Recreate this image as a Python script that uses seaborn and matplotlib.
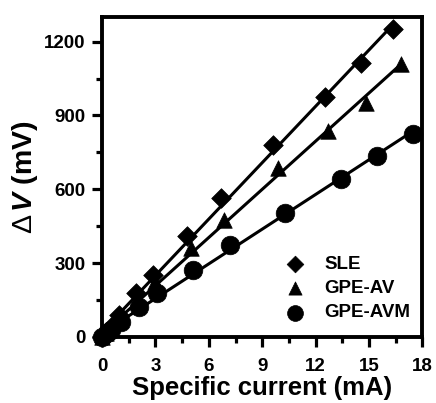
import matplotlib
matplotlib.use("Agg")
import matplotlib.pyplot as plt
from matplotlib.ticker import MultipleLocator
import numpy as np
import pandas as pd
import seaborn as sns

# Measured overpotential vs. specific current for the three electrolytes
series_names = ["SLE", "GPE-AV", "GPE-AVM"]
sle_current = [0, 0.2, 0.5, 0.95, 1.9, 2.85, 4.8, 6.7, 9.6, 12.55, 14.55, 16.35]
sle_dv = [0, 15, 40, 90, 178, 252, 410, 565, 782, 975, 1112, 1252]
av_current = [0, 0.25, 0.5, 1.0, 2.0, 3.0, 5.0, 6.85, 9.9, 12.7, 14.85, 16.8]
av_dv = [0, 15, 35, 70, 145, 225, 360, 475, 688, 835, 950, 1110]
avm_current = [0, 0.3, 0.5, 1.05, 2.1, 3.1, 5.1, 7.2, 10.3, 13.45, 15.45, 17.45]
avm_dv = [0, 15, 30, 60, 120, 178, 272, 372, 505, 640, 737, 826]

x_ticks = [0, 3, 6, 9, 12, 15, 18]
y_ticks = [0, 300, 600, 900, 1200]

frames = []
for name, xs, ys in zip(series_names,
                        [sle_current, av_current, avm_current],
                        [sle_dv, av_dv, avm_dv]):
    frames.append(pd.DataFrame({"current": xs, "dv": ys, "sample": name}))
df = pd.concat(frames, ignore_index=True)

sns.set_theme(style="ticks")
plt.rcParams["font.family"] = ["Liberation Sans", "DejaVu Sans"]
plt.rcParams["font.weight"] = "bold"
plt.rcParams["text.color"] = "black"
plt.rcParams["axes.labelcolor"] = "black"
plt.rcParams["xtick.color"] = "black"
plt.rcParams["ytick.color"] = "black"
plt.rcParams["mathtext.fontset"] = "custom"
plt.rcParams["mathtext.rm"] = "Liberation Sans:weight=normal"
plt.rcParams["mathtext.it"] = "Liberation Sans:italic:weight=normal"
plt.rcParams["mathtext.bf"] = "Liberation Sans:bold"
plt.rcParams["mathtext.bfit"] = "Liberation Sans:bold:italic"

fig = plt.figure(figsize=(4.36, 4.03), dpi=100)
ax = fig.add_axes([0.234, 0.1638, 0.735, 0.794])

markers = {"SLE": "D", "GPE-AV": "^", "GPE-AVM": "o"}
sizes = {"SLE": 100, "GPE-AV": 125, "GPE-AVM": 180}

# linear fits through each data set
for name in series_names:
    sub = df[df["sample"] == name]
    sns.regplot(data=sub, x="current", y="dv", ci=None, scatter=False,
                color="black", line_kws={"lw": 2.2}, ax=ax)

for name in series_names:
    sub = df[df["sample"] == name]
    sns.scatterplot(data=sub, x="current", y="dv", marker=markers[name],
                    s=sizes[name], color="black", edgecolor="black",
                    linewidth=0.5, label=name, ax=ax, zorder=3, clip_on=False)

ax.set_xlim(0, 18)
ax.set_ylim(0, 1300)
ax.set_xticks(x_ticks)
ax.set_yticks(y_ticks)
ax.xaxis.set_minor_locator(MultipleLocator(1.5))
ax.yaxis.set_minor_locator(MultipleLocator(150))

for side in ax.spines.values():
    side.set_linewidth(2.8)
    side.set_color("black")
ax.tick_params(which="major", length=7.5, width=2.3, direction="out",
               labelsize=13.5)
ax.tick_params(which="minor", length=4.5, width=2.3, direction="out")
ax.tick_params(axis="x", which="major", pad=7.5)
ax.tick_params(axis="y", which="major", pad=4.5)
for lbl in ax.get_xticklabels() + ax.get_yticklabels():
    lbl.set_fontweight("bold")

ax.set_xlabel("Specific current (mA)", fontsize=18.5, fontweight="bold",
              labelpad=1)
ax.set_ylabel(r"$\mathrm{\Delta}\,\mathbfit{V}$ (mV)", fontsize=20.5,
              fontweight="bold", labelpad=3)

leg = ax.legend(loc="lower right", frameon=False, fontsize=13.5,
                handletextpad=0.55, labelspacing=0.38, borderaxespad=0,
                bbox_to_anchor=(0.985, 0.025), markerscale=0.85)
for t in leg.get_texts():
    t.set_fontweight("bold")

fig.savefig("out.png", dpi=100)
